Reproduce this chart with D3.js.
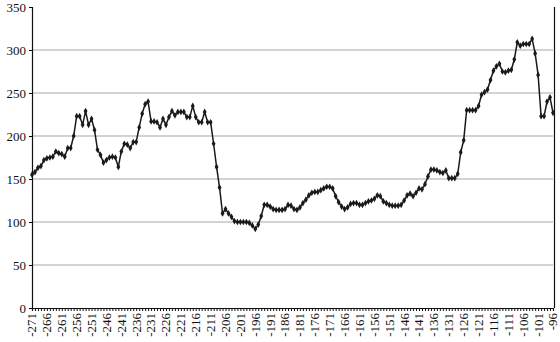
<!DOCTYPE html>
<html>
<head>
<meta charset="utf-8">
<script src="https://cdn.jsdelivr.net/npm/d3@7"></script>
<style>
  body { margin: 0; background: #fff; }
  svg { display: block; }
  .axis text { font-family: "Liberation Serif", "DejaVu Serif", serif; font-size: 13px; fill: #111; }
</style>
</head>
<body>
<div id="chart"></div>
<script>
// years -271 .. -96, one value per year
let startYear = -271;
let endYear = -96;

let values = [
    155, 158, 163, 165, 172, 174, 175, 176, 182, 180,   // -271 .. -262
    179, 176, 186, 186, 200, 223, 223, 213, 229, 213,   // -261 .. -252
    220, 207, 184, 178, 169, 172, 175, 176, 175, 164,   // -251 .. -242
    182, 191, 190, 186, 193, 193, 210, 226, 237, 240,   // -241 .. -232
    217, 217, 216, 210, 220, 213, 222, 229, 224, 228,   // -231 .. -222
    228, 228, 222, 222, 235, 222, 216, 216, 228, 216,   // -221 .. -212
    216, 191, 164, 140, 110, 115, 110, 106, 101, 100,   // -211 .. -202
    100, 100, 100, 99, 96, 92, 97, 107, 120, 120,       // -201 .. -192
    118, 115, 114, 114, 114, 115, 120, 119, 115, 114,   // -191 .. -182
    117, 122, 126, 131, 134, 135, 135, 137, 139, 141,   // -181 .. -172
    141, 139, 130, 123, 118, 115, 117, 121, 122, 122,   // -171 .. -162
    120, 120, 122, 124, 125, 127, 131, 130, 124, 122,   // -161 .. -152
    120, 119, 119, 119, 120, 125, 131, 133, 130, 134,   // -151 .. -142
    139, 138, 144, 153, 161, 161, 160, 158, 157, 160,   // -141 .. -132
    151, 151, 151, 156, 181, 195, 230, 230, 230, 230,   // -131 .. -122
    235, 248, 251, 254, 265, 276, 281, 284, 275, 274,   // -121 .. -112
    276, 277, 289, 309, 305, 307, 307, 307, 313, 296,   // -111 .. -102
    271, 223, 223, 240, 245, 227                        // -101 .. -96
];

let years = d3.range(startYear, endYear + 1);
let yTicks = [0, 50, 100, 150, 200, 250, 300, 350];
let labelYears = d3.range(startYear, endYear + 1, 5);

let data = years.map((y, i) => ({ year: y, value: values[i] }));

let width = 560, height = 342;
let margin = { top: 7, right: 7, bottom: 34, left: 32 };

let svg = d3.select("#chart").append("svg")
    .attr("width", width)
    .attr("height", height);

let x = d3.scaleLinear()
    .domain([startYear, endYear])
    .range([margin.left, width - margin.right]);

let y = d3.scaleLinear()
    .domain([0, 350])
    .range([height - margin.bottom, margin.top]);

// grid lines
svg.append("g")
    .selectAll("line")
    .data(yTicks.filter(d => d > 0 && d < 350))
    .join("line")
    .attr("x1", margin.left)
    .attr("x2", x(endYear))
    .attr("y1", d => y(d))
    .attr("y2", d => y(d))
    .attr("stroke", "#c4c4c4")
    .attr("stroke-width", 1.6);

// right frame line
svg.append("line")
    .attr("x1", x(endYear) + 1.5)
    .attr("x2", x(endYear) + 1.5)
    .attr("y1", y(350))
    .attr("y2", y(0))
    .attr("stroke", "#111")
    .attr("stroke-width", 1.2);

// y axis
let yAxis = d3.axisLeft(y)
    .tickValues(yTicks)
    .tickSize(3)
    .tickPadding(3);

svg.append("g")
    .attr("class", "axis")
    .attr("transform", "translate(" + margin.left + ",0)")
    .call(yAxis)
    .attr("font-family", "Liberation Serif")
    .attr("font-size", 13)
    .call(g => g.select(".domain").attr("stroke", "#111").attr("stroke-width", 1.2));

// x axis: tick every year, label every 5
let xAxis = d3.axisBottom(x)
    .tickValues(years)
    .tickSize(3)
    .tickFormat(d => labelYears.includes(d) ? d : "");

let gx = svg.append("g")
    .attr("class", "axis")
    .attr("transform", "translate(0," + y(0) + ")")
    .call(xAxis)
    .attr("font-family", "Liberation Serif")
    .attr("font-size", 13);

gx.select(".domain").attr("stroke", "#111").attr("stroke-width", 1.2);
gx.selectAll(".tick line").attr("stroke", "#111");
gx.selectAll(".tick text")
    .attr("transform", "rotate(-90)")
    .attr("text-anchor", "end")
    .attr("x", -5)
    .attr("y", 0)
    .attr("dy", "0.3em");

// line
let line = d3.line()
    .x(d => x(d.year))
    .y(d => y(d.value));

svg.append("path")
    .datum(data)
    .attr("fill", "none")
    .attr("stroke", "#1a1a1a")
    .attr("stroke-width", 1.5)
    .attr("d", line);

// markers
let marker = d3.symbol().type(d3.symbolDiamond).size(13);

svg.append("g")
    .selectAll("path")
    .data(data)
    .join("path")
    .attr("transform", d => "translate(" + x(d.year) + "," + y(d.value) + ")")
    .attr("d", marker)
    .attr("fill", "#1a1a1a");
</script>
</body>
</html>
